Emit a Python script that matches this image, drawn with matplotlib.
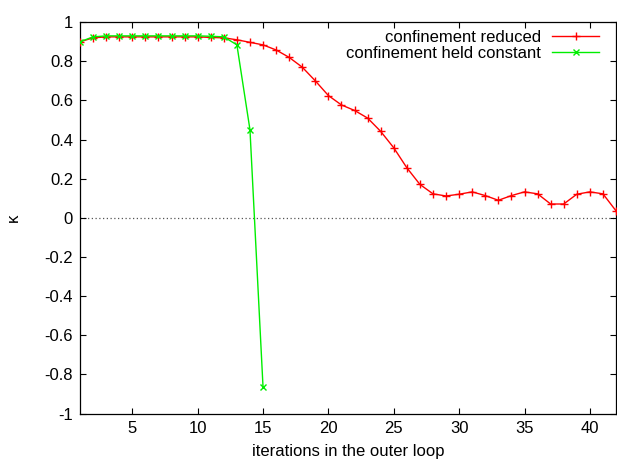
import numpy as np
import matplotlib
matplotlib.use("Agg")
import matplotlib.pyplot as plt
from matplotlib.ticker import FuncFormatter

plt.rcParams['font.family'] = ['Liberation Sans', 'DejaVu Sans']
plt.rcParams['axes.unicode_minus'] = False

# kappa per outer-loop iteration
iters_reduced = list(range(1, 43))
kappa_reduced = [0.90, 0.92, 0.925, 0.925, 0.925, 0.925, 0.925, 0.925, 0.925, 0.925,
                 0.922, 0.92, 0.91, 0.897, 0.884, 0.858, 0.82, 0.77, 0.70, 0.625,
                 0.577, 0.549, 0.51, 0.442, 0.358, 0.256, 0.171, 0.123, 0.112, 0.121,
                 0.133, 0.114, 0.09, 0.114, 0.133, 0.123, 0.071, 0.071, 0.121, 0.133,
                 0.123, 0.036]

iters_const = list(range(1, 16))
kappa_const = [0.90, 0.925, 0.93, 0.93, 0.93, 0.93, 0.93, 0.93, 0.93, 0.93,
               0.928, 0.925, 0.884, 0.45, -0.866]

fig = plt.figure(figsize=(6.17, 4.62), dpi=100)
ax = fig.add_axes([0.1297, 0.1047, 0.8687, 0.8473])

ax.axhline(0, color='#555555', lw=0.9, ls=(0, (1, 2)), zorder=1)

ax.plot(iters_reduced, kappa_reduced, color='#ff0000', lw=1.0, marker='+',
        ms=6, mew=1.0, label='confinement reduced', zorder=3)
ax.plot(iters_const, kappa_const, color='#00ee00', lw=1.0, marker='x',
        ms=5, mew=1.0, label='confinement held constant', zorder=4)

ax.set_xlim(1, 42)
ax.set_ylim(-1, 1)
ax.set_xticks(range(5, 41, 5))
ax.set_yticks(np.linspace(-1, 1, 11))
ax.yaxis.set_major_formatter(FuncFormatter(lambda v, p: '%g' % round(v, 1)))

ax.tick_params(direction='in', top=True, right=True, length=4, width=0.8,
               labelsize=12, pad=5)
for s in ax.spines.values():
    s.set_linewidth(0.9)

ax.set_xlabel('iterations in the outer loop', fontsize=12, labelpad=6)
ax.set_ylabel('κ', fontsize=12, labelpad=17)

leg = ax.legend(loc='upper right', bbox_to_anchor=(0.968, 0.98), frameon=False,
                markerfirst=False, numpoints=1, handlelength=2.8, fontsize=12,
                borderaxespad=0, borderpad=0, labelspacing=0.05, handletextpad=0.65)

fig.savefig('out.png', dpi=100)
